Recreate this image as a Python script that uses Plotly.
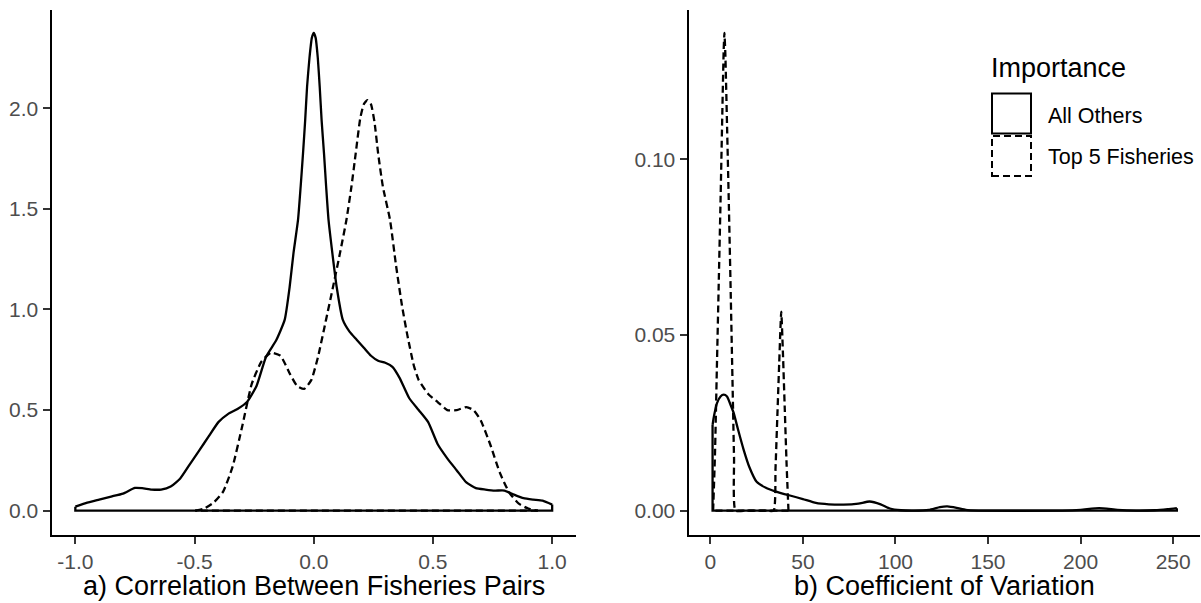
import plotly.graph_objects as go

# ---------------- data ----------------
# Panel a) density of correlation between fisheries pairs
corr_all_x = [-1.0, -0.95, -0.9, -0.85, -0.8, -0.75, -0.72, -0.68, -0.64, -0.6, -0.56, -0.52,
              -0.48, -0.44, -0.40, -0.36, -0.32, -0.28, -0.24, -0.20, -0.157, -0.122, -0.101,
              -0.085, -0.066, -0.055, -0.045, -0.036, -0.028, -0.018, -0.008, 0.0, 0.008,
              0.017, 0.025, 0.033, 0.043, 0.052, 0.062, 0.078, 0.096, 0.122, 0.15, 0.18,
              0.21, 0.24, 0.27, 0.30, 0.33, 0.36, 0.40, 0.44, 0.48, 0.52, 0.56, 0.60, 0.64,
              0.68, 0.72, 0.76, 0.80, 0.84, 0.88, 0.92, 0.96, 1.0]
corr_all_y = [0.02, 0.04, 0.055, 0.07, 0.085, 0.113, 0.112, 0.105, 0.105, 0.12, 0.16, 0.23,
              0.30, 0.37, 0.44, 0.48, 0.505, 0.54, 0.62, 0.765, 0.848, 0.948, 1.113,
              1.28, 1.445, 1.61, 1.776, 1.94, 2.107, 2.25, 2.35, 2.375, 2.35,
              2.25, 2.107, 1.94, 1.776, 1.61, 1.445, 1.28, 1.113, 0.948, 0.89, 0.85,
              0.81, 0.77, 0.745, 0.735, 0.715, 0.66, 0.56, 0.50, 0.44, 0.33, 0.26, 0.20, 0.14,
              0.112, 0.105, 0.10, 0.10, 0.08, 0.062, 0.055, 0.05, 0.03]

corr_top_x = [-0.497, -0.46, -0.42, -0.38, -0.34, -0.30, -0.26, -0.22, -0.18, -0.14, -0.10,
              -0.07, -0.04, -0.01, 0.018, 0.05, 0.081, 0.11, 0.137, 0.158, 0.176, 0.195,
              0.21, 0.225, 0.24, 0.255, 0.27, 0.29, 0.32, 0.345, 0.37, 0.393, 0.42, 0.44,
              0.48, 0.52, 0.56, 0.60, 0.64, 0.67, 0.70, 0.74, 0.78, 0.82, 0.86, 0.90, 0.94]
corr_top_y = [0.0, 0.01, 0.04, 0.095, 0.22, 0.42, 0.63, 0.74, 0.785, 0.77, 0.68,
              0.62, 0.605, 0.65, 0.765, 0.94, 1.113, 1.28, 1.445, 1.61, 1.776, 1.95,
              2.02, 2.041, 2.02, 1.93, 1.776, 1.61, 1.445, 1.22, 1.02, 0.87, 0.72, 0.65,
              0.58, 0.54, 0.50, 0.50, 0.515, 0.50, 0.45, 0.33, 0.19, 0.09, 0.035, 0.01, 0.0]

# Panel b) density of coefficient of variation
cv_all_x = [1.2, 2, 3.6, 5.5, 7.2, 9, 11, 12.6, 15, 18, 21, 25, 30, 35, 43, 50, 57, 64, 72,
            80, 86, 92, 97, 103, 110, 118, 124, 128, 133, 138, 145, 190, 200, 210, 220, 230,
            240, 247, 252]
cv_all_y = [0.0244, 0.027, 0.0306, 0.0325, 0.033, 0.0325, 0.030, 0.0278, 0.023, 0.0173,
            0.0125, 0.0082, 0.0065, 0.0055, 0.0043, 0.0033, 0.0022, 0.0018, 0.0017,
            0.0020, 0.0026, 0.0018, 0.0006, 0.0001, 0.0, 0.0002, 0.001, 0.0012, 0.0008,
            0.0002, 0.0, 0.0, 0.0002, 0.0007, 0.0002, 0.0, 0.0001, 0.0004, 0.0007]

cv_top_x = [1.5, 2.5, 3.5, 4.5, 5.5, 6.5, 7.2, 7.6, 8.1, 9, 10, 11, 12, 12.8, 13.6, 20, 30,
            34.2, 35.2, 36.2, 37.2, 38.3, 39.2, 40.2, 41.2, 42.2]
cv_top_y = [0.0, 0.016, 0.04, 0.064, 0.088, 0.114, 0.131, 0.136, 0.130, 0.11, 0.087, 0.062,
            0.036, 0.015, 0.0, 0.0, 0.0, 0.0, 0.012, 0.027, 0.042, 0.0566, 0.045, 0.029,
            0.013, 0.0]

groups = ["All Others", "Top 5 Fisheries"]
dashes = {"All Others": "solid", "Top 5 Fisheries": "7px,4px"}

x_ticks_a = [-1.0, -0.5, 0.0, 0.5, 1.0]
x_text_a = ["-1.0", "-0.5", "0.0", "0.5", "1.0"]
y_ticks_a = [0.0, 0.5, 1.0, 1.5, 2.0]
y_text_a = ["0.0", "0.5", "1.0", "1.5", "2.0"]
x_ticks_b = [0, 50, 100, 150, 200, 250]
x_text_b = ["0", "50", "100", "150", "200", "250"]
y_ticks_b = [0.0, 0.05, 0.10]
y_text_b = ["0.00", "0.05", "0.10"]

title_a = "a) Correlation Between Fisheries Pairs"
title_b = "b) Coefficient of Variation"
legend_title = "Importance"

# ---------------- figure ----------------
W, H = 1201, 603
FONT = "Liberation Sans, Arial, sans-serif"

fig = go.Figure()
series = [
    ("x", "y", corr_all_x, corr_all_y, "All Others"),
    ("x", "y", corr_top_x, corr_top_y, "Top 5 Fisheries"),
    ("x2", "y2", cv_all_x, cv_all_y, "All Others"),
    ("x2", "y2", cv_top_x, cv_top_y, "Top 5 Fisheries"),
]
for xa, ya, xs, ys, g in series:
    # closing outline along the baseline (like geom_density), drawn straight
    fig.add_trace(go.Scatter(x=[xs[-1], xs[-1], xs[0], xs[0]],
                             y=[ys[-1], 0.0, 0.0, ys[0]],
                             mode="lines", xaxis=xa, yaxis=ya,
                             line=dict(color="black", width=2.3, dash=dashes[g]),
                             showlegend=False, hoverinfo="skip"))
    # the density curve itself, smoothed
    fig.add_trace(go.Scatter(x=xs, y=ys, mode="lines", xaxis=xa, yaxis=ya,
                             line=dict(color="black", width=2.3, dash=dashes[g],
                                       shape="spline", smoothing=0.5),
                             showlegend=False, hoverinfo="skip"))


def px2x(p):
    return p / W


def px2y(p):
    return 1 - p / H


axis_common = dict(showgrid=False, zeroline=False, showline=True, linecolor="black",
                   linewidth=2, ticks="outside", ticklen=7, tickwidth=2,
                   tickcolor="#333333",
                   tickfont=dict(family=FONT, size=21, color="#4D4D4D"))

y_dom = [px2y(534.5), px2y(10)]
fig.update_layout(
    width=W, height=H,
    margin=dict(l=0, r=0, t=0, b=0),
    paper_bgcolor="white", plot_bgcolor="white",
    showlegend=False,
    xaxis=dict(domain=[px2x(51.5), px2x(576)], range=[-1.1, 1.1],
               tickvals=x_ticks_a, ticktext=x_text_a, anchor="y", **axis_common),
    yaxis=dict(domain=y_dom, range=[-0.1185, 2.4885],
               tickvals=y_ticks_a, ticktext=y_text_a, anchor="x", **axis_common),
    xaxis2=dict(domain=[px2x(688.5), px2x(1200)], range=[-11.8, 264.5],
                tickvals=x_ticks_b, ticktext=x_text_b, anchor="y2", **axis_common),
    yaxis2=dict(domain=y_dom, range=[-0.0068, 0.1425],
                tickvals=y_ticks_b, ticktext=y_text_b, anchor="x2", **axis_common),
)

# axis titles
for txt, cxp in [(title_a, 314), (title_b, 944.5)]:
    fig.add_annotation(text=txt, xref="paper", yref="paper", x=px2x(cxp), y=px2y(586),
                       xanchor="center", yanchor="middle", showarrow=False,
                       font=dict(family=FONT, size=27, color="black"))

# legend (drawn manually to mimic ggplot key boxes)
fig.add_annotation(text=legend_title, xref="paper", yref="paper", x=px2x(989), y=px2y(68),
                   xanchor="left", yanchor="middle", showarrow=False,
                   font=dict(family=FONT, size=27, color="black"))
boxes = [(93.5, 133.5, 116), (136, 176, 157)]
for g, (t, b, ly) in zip(groups, boxes):
    fig.add_shape(type="rect", xref="paper", yref="paper",
                  x0=px2x(992), x1=px2x(1031), y0=px2y(b), y1=px2y(t),
                  line=dict(color="black", width=2, dash=dashes[g]), fillcolor="white")
    fig.add_annotation(text=g, xref="paper", yref="paper", x=px2x(1046), y=px2y(ly),
                       xanchor="left", yanchor="middle", showarrow=False,
                       font=dict(family=FONT, size=21.5, color="black"))

fig.write_html("out.html")
